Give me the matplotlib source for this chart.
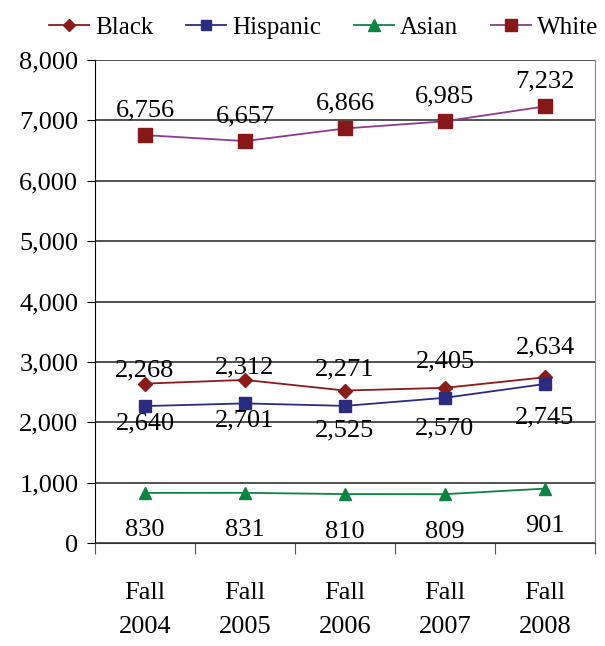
import numpy as np
import matplotlib.pyplot as plt

plt.rcParams['font.family'] = ['Liberation Serif', 'DejaVu Serif']

years = ["Fall\n2004", "Fall\n2005", "Fall\n2006", "Fall\n2007", "Fall\n2008"]
black = [2640, 2701, 2525, 2570, 2745]
hispanic = [2268, 2312, 2271, 2405, 2634]
asian = [830, 831, 810, 809, 901]
white = [6756, 6657, 6866, 6985, 7232]

fig = plt.figure(figsize=(6.05, 6.46), dpi=100)
ax = fig.add_axes([95/605, 1-543/646, 500/605, 483/646])

x = np.arange(len(years))
l1, = ax.plot(x, black, color="#8b1a1a", marker="D", markersize=7, lw=1.3, label="Black")
l2, = ax.plot(x, hispanic, color="#2b2b80", marker="s", markersize=8, lw=1.3, label="Hispanic")
l3, = ax.plot(x, asian, color="#0e8442", marker="^", markersize=9, lw=1.3, label="Asian")
l4, = ax.plot(x, white, color="#8e3a90", marker="s", markersize=10, lw=1.3,
              mfc="#861818", mec="#861818", label="White")

fs = 19
for i in range(len(x)):
    ax.annotate(f"{white[i]:,}", (x[i], white[i]), xytext=(0, 18), textcoords="offset points",
                ha="center", va="center", fontsize=fs)
    # labels sit where the source chart put them
    ax.annotate(f"{hispanic[i]:,}", (x[i], hispanic[i]), xytext=(0, 26), textcoords="offset points",
                ha="center", va="center", fontsize=fs)
    ax.annotate(f"{black[i]:,}", (x[i], black[i]), xytext=(0, -29), textcoords="offset points",
                ha="center", va="center", fontsize=fs)
    ax.annotate(f"{asian[i]:,}", (x[i], asian[i]), xytext=(0, -27), textcoords="offset points",
                ha="center", va="center", fontsize=fs)

ax.set_xlim(-0.5, 4.5)
ax.set_ylim(0, 8000)
ax.set_yticks(range(0, 8001, 1000))
ax.set_yticklabels([f"{v:,}" for v in range(0, 8001, 1000)], fontsize=fs)
ax.yaxis.grid(True, color="#333333", lw=1.2)
ax.set_axisbelow(True)

ax.set_xticks(np.arange(-0.5, 5, 1))
ax.set_xticklabels([])
ax.set_xticks(x, minor=True)
ax.set_xticklabels(years, minor=True, fontsize=fs, linespacing=1.7)
ax.tick_params(axis="x", which="minor", length=0, pad=28)
ax.tick_params(axis="x", which="major", length=8, color="#555555")
ax.tick_params(axis="y", length=6, pad=6)

ax.spines["top"].set_visible(False)
ax.spines["right"].set_color("#888888")
ax.spines["left"].set_color("black")
ax.spines["bottom"].set_color("#333333")

fig.legend(handles=[l1, l2, l3, l4], loc="upper center", bbox_to_anchor=(0.535, 1.01),
           ncol=4, frameon=False, fontsize=18, handlelength=1.6, handletextpad=0.25,
           columnspacing=1.3, markerscale=0.9)

plt.savefig("out.png", dpi=100)
